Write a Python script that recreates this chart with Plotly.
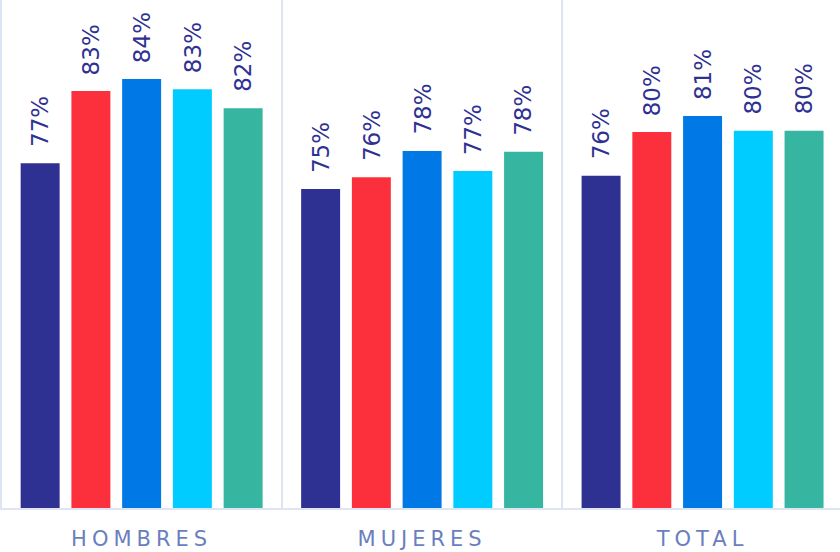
import plotly.graph_objects as go

categories = ["HOMBRES", "MUJERES", "TOTAL"]
series_names = ["Serie 1", "Serie 2", "Serie 3", "Serie 4", "Serie 5"]
serie_1 = [77.38, 75.32, 76.38]
serie_2 = [83.16, 76.26, 79.88]
serie_3 = [84.12, 78.36, 81.16]
serie_4 = [83.30, 76.76, 79.98]
serie_5 = [81.78, 78.30, 79.98]
series_values = [serie_1, serie_2, serie_3, serie_4, serie_5]
colors = ["#2E3192", "#FC303C", "#0078E6", "#00CCFF", "#36B5A0"]

BARGAP = 0.0954
BARGROUPGAP = 0.232
LABEL_COLOR = "#2E3192"
AXIS_TEXT_COLOR = "#6A7FC0"
LINE_COLOR = "#DFE4F2"
FONT = "DejaVu Sans, Verdana, sans-serif"

fig = go.Figure()
for name, vals, col in zip(series_names, series_values, colors):
    fig.add_trace(go.Bar(name=name, x=categories, y=vals, marker=dict(color=col, line=dict(width=0))))

# value labels above bars (rotated), positioned with the bar grouping parameters
n = len(series_values)
slot = (1 - BARGAP) / n
annotations = []
for si, vals in enumerate(series_values):
    for gi, v in enumerate(vals):
        annotations.append(dict(
            x=gi + (si - (n - 1) / 2) * slot, y=v, xref="x", yref="y",
            text=f"{v:.0f}%", showarrow=False, textangle=-90,
            xanchor="center", yanchor="bottom", yshift=14,
            font=dict(family=FONT, size=23, color=LABEL_COLOR),
        ))

tick_text = [f'<span style="letter-spacing:5px">{c}</span>' for c in categories]

fig.update_layout(
    width=840, height=552,
    margin=dict(l=0, r=0, t=0, b=44),
    paper_bgcolor="white", plot_bgcolor="white",
    barmode="group", bargap=BARGAP, bargroupgap=BARGROUPGAP,
    showlegend=False,
    annotations=annotations,
    xaxis=dict(
        type="category", range=[-0.505, 2.49],
        tickson="boundaries", showgrid=True, gridcolor=LINE_COLOR, gridwidth=2,
        showline=True, linecolor=LINE_COLOR, linewidth=2,
        ticks="", tickmode="array", tickvals=categories, ticktext=tick_text,
        tickfont=dict(family=FONT, size=21, color=AXIS_TEXT_COLOR),
        ticklabelstandoff=11,
    ),
    yaxis=dict(
        range=[49.8, 90.44], showgrid=False, zeroline=False,
        showticklabels=False, ticks="", showline=False,
    ),
)

fig.write_html(
    "out.html",
    config={"displayModeBar": False},
    post_script="document.body.style.margin='0';",
)
